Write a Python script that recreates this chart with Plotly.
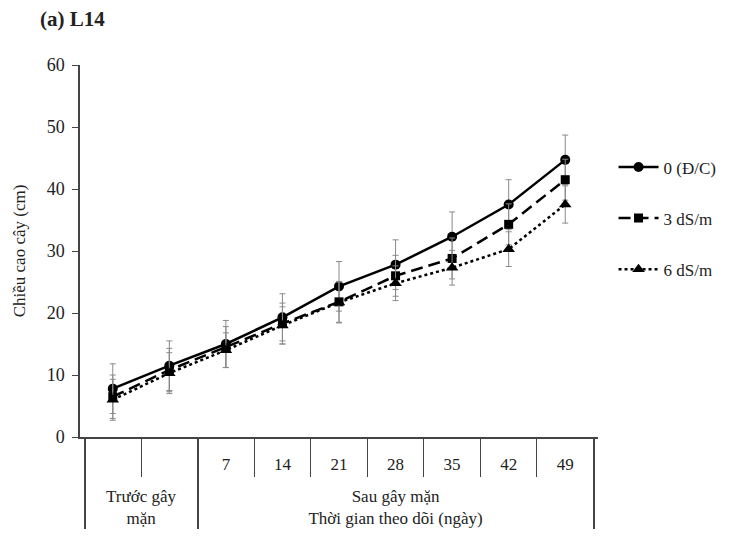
import plotly.graph_objects as go

outer = [" <br>Trước gây<br>mặn"] * 2 + [" <br>Sau gây mặn<br>Thời gian theo dõi (ngày)"] * 7
inner = [" ", "  ", "7", "14", "21", "28", "35", "42", "49"]

series_names = ["0 (Đ/C)", "3 dS/m", "6 dS/m"]
ctrl = [7.8, 11.5, 15.0, 19.3, 24.3, 27.8, 32.3, 37.5, 44.7]
ds3 = [6.5, 10.8, 14.5, 18.3, 21.8, 26.0, 28.8, 34.3, 41.5]
ds6 = [6.0, 10.3, 14.0, 18.0, 21.7, 24.8, 27.3, 30.3, 37.5]
err_ctrl = [4.0, 4.0, 3.8, 3.8, 4.0, 4.0, 4.0, 4.0, 4.0]
err_ds3 = [3.5, 3.5, 3.3, 3.3, 3.3, 3.3, 3.3, 3.3, 3.3]
err_ds6 = [3.3, 3.3, 2.8, 3.0, 3.3, 2.8, 2.8, 2.8, 3.0]

styles = [
    dict(dash="solid", symbol="circle", size=10),
    dict(dash="12px,6px", symbol="square", size=9),
    dict(dash="dot", symbol="triangle-up", size=11),
]

fig = go.Figure()
for name, vals, errs, st in zip(series_names, [ctrl, ds3, ds6], [err_ctrl, err_ds3, err_ds6], styles):
    fig.add_trace(go.Scatter(
        x=[outer, inner], y=vals, name=name, mode="lines+markers",
        legendgroup=name,
        line=dict(color="black", width=2.5, dash=st["dash"]),
        marker=dict(color="black", symbol=st["symbol"], size=st["size"]),
        error_y=dict(type="data", array=errs, visible=True, color="#8a8a8a", thickness=1, width=3),
    ))

font = "Liberation Serif, Times New Roman, serif"
fig.update_layout(
    width=730, height=538,
    margin=dict(l=72, r=140, t=57, b=109),
    plot_bgcolor="white", paper_bgcolor="white",
    font=dict(family=font, size=17, color="#222"),
    title=dict(text="<b>(a) L14</b>", x=0.044, xanchor="left", y=0.981, yanchor="middle",
               font=dict(family=font, size=21, color="#222")),
    legend=dict(x=1.03, y=0.773, xanchor="left", yanchor="top", tracegroupgap=26,
                font=dict(family=font, size=17, color="#222"), itemwidth=40),
    showlegend=True,
)
fig.update_yaxes(
    range=[0, 60], dtick=10, showline=True, linecolor="#444", linewidth=1.5,
    ticks="outside", ticklen=6, tickcolor="#444", showgrid=False, zeroline=False,
    ticklabelstandoff=4, tickfont=dict(size=18), automargin=False,
    title=dict(text="Chiều cao cây (cm)", font=dict(family=font, size=17, color="#222"), standoff=17),
)
fig.update_xaxes(
    type="multicategory", showline=True, linecolor="#444", linewidth=1.5,
    ticks="outside", tickson="boundaries", ticklen=38, tickcolor="#444",
    ticklabelstandoff=11, automargin=False,
    showdividers=True, dividercolor="#444", dividerwidth=1.5,
    showgrid=False,
)
fig.write_html("out.html")
